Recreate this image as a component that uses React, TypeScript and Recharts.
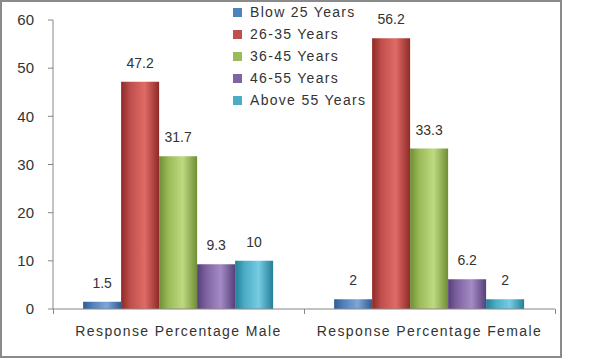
import React from "react";
import { BarChart, Bar, XAxis, YAxis, Legend, LabelList } from "recharts";

const categories = ["Response Percentage Male", "Response Percentage Female"];
const seriesNames = ["Blow 25 Years", "26-35 Years", "36-45 Years", "46-55 Years", "Above 55 Years"];
const below25 = [1.5, 2];
const age26to35 = [47.2, 56.2];
const age36to45 = [31.7, 33.3];
const age46to55 = [9.3, 6.2];
const above55 = [10, 2];
const yTicks = [0, 10, 20, 30, 40, 50, 60];

const seriesValues = [below25, age26to35, age36to45, age46to55, above55];
const keys = ["s0", "s1", "s2", "s3", "s4"];
const colors = ["#4F81BD", "#C0504D", "#9BBB59", "#8064A2", "#4BACC6"];
const darks = ["#2E5C94", "#8E2A27", "#6E8E35", "#563F7A", "#237F98"];
const lights = ["#7FA6D8", "#E06A66", "#BEDA80", "#A48BC6", "#76CCE3"];

const data = categories.map((c, i) => {
  const row: any = { name: c };
  keys.forEach((k, j) => (row[k] = seriesValues[j][i]));
  return row;
});

const FONT = "'Liberation Sans', Arial, sans-serif";

const CustomTick = (props: any) => {
  const { x, y, payload, index } = props;
  const half = 125;
  return (
    <g>
      <line x1={x - half} y1={y - 8} x2={x - half} y2={y - 3} stroke="#868686" />
      {index === categories.length - 1 && (
        <line x1={x + half + 1} y1={y - 8} x2={x + half + 1} y2={y - 3} stroke="#868686" />
      )}
      <text x={x} y={y + 19} textAnchor="middle" fill="#333" fontSize={14} letterSpacing={1.4} fontFamily={FONT}>
        {payload.value}
      </text>
    </g>
  );
};

const LegendContent = () => (
  <div style={{ fontFamily: FONT, fontSize: 14, color: "#333", letterSpacing: 1.3, textAlign: "left" }}>
    {seriesNames.map((n, i) => (
      <div key={n} style={{ display: "flex", alignItems: "center", height: 22 }}>
        <span style={{ display: "inline-block", width: 9, height: 9, background: colors[i], marginRight: 8 }} />
        <span>{n}</span>
      </div>
    ))}
  </div>
);

export default function App() {
  return (
    <div style={{ position: "absolute", left: 0, top: 0, width: 562, height: 358, border: "2px solid #8a8a8a", boxSizing: "border-box", background: "#fff" }}>
      <div style={{ position: "absolute", left: -2, top: -2 }}>
        <BarChart
          width={562}
          height={359}
          data={data}
          margin={{ top: 20, right: 7, left: 0, bottom: 20 }}
          barGap={0}
          barCategoryGap="12%"
        >
          <defs>
            {colors.map((c, i) => (
              <linearGradient key={i} id={`g${i}`} x1="0" y1="0" x2="1" y2="0">
                <stop offset="0%" stopColor={darks[i]} />
                <stop offset="25%" stopColor={c} />
                <stop offset="62%" stopColor={lights[i]} />
                <stop offset="100%" stopColor={darks[i]} />
              </linearGradient>
            ))}
          </defs>
          <YAxis
            width={53}
            domain={[0, 60]}
            ticks={yTicks}
            interval={0}
            axisLine={{ stroke: "#868686" }}
            tickLine={{ stroke: "#868686" }}
            tickSize={5}
            tick={{ fill: "#333", fontSize: 15, fontFamily: FONT, dx: -12 }}
          />
          <XAxis
            dataKey="name"
            height={30}
            axisLine={{ stroke: "#868686" }}
            tickLine={false}
            tick={<CustomTick />}
            interval={0}
          />
          <Legend
            layout="horizontal"
            verticalAlign="middle"
            align="center"
            content={<LegendContent />}
            wrapperStyle={{ position: "absolute", left: 233, top: 1, width: 160 }}
          />
          {keys.map((k, i) => (
            <Bar key={k} dataKey={k} name={seriesNames[i]} fill={`url(#g${i})`} isAnimationActive={false}>
              <LabelList dataKey={k} position="top" offset={14} fill="#333" fontSize={14} fontFamily={FONT} />
            </Bar>
          ))}
        </BarChart>
      </div>
    </div>
  );
}
